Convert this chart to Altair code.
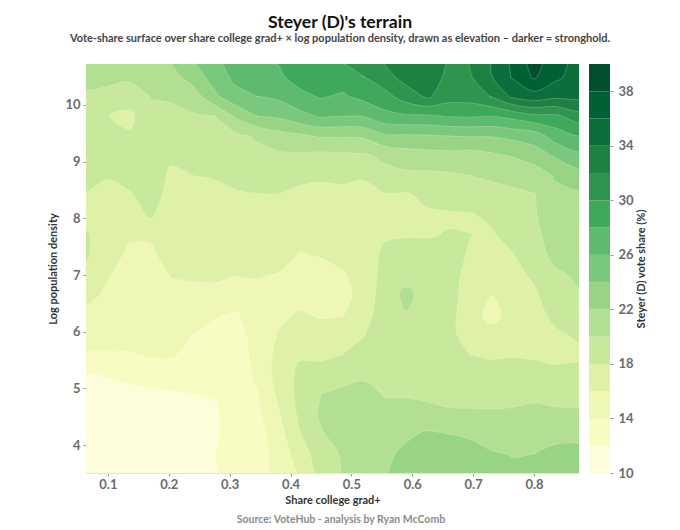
import altair as alt
import pandas as pd

FONT = "Lato"
TITLE = "Steyer (D)'s terrain"
SUBTITLE = "Vote-share surface over share college grad+ × log population density, drawn as elevation – darker = stronghold."
SOURCE = "Source: VoteHub - analysis by Ryan McComb"

LEVELS = [10, 12, 14, 16, 18, 20, 22, 24, 26, 28, 30, 32, 34, 36, 38]
COLORS = ["#fdfed9", "#f8fcc3", "#eef8b4", "#dff1a6", "#c8e89b", "#b2df91", "#97d486", "#7ac87b",
          "#5eba6c", "#3fa85b", "#2f944d", "#1e8041", "#0c6f3b", "#006134", "#004f2d"]

X_SHARE = [0.063, 0.100, 0.135, 0.170, 0.205, 0.240, 0.275, 0.310, 0.345, 0.380, 0.415, 0.450,
           0.485, 0.520, 0.555, 0.590, 0.625, 0.660, 0.695, 0.730, 0.765, 0.800, 0.835, 0.875]
Y_LOGDENS = [10.85, 10.5, 10.15, 9.8, 9.45, 9.1, 8.75, 8.4, 8.05, 7.7, 7.35, 7.0, 6.65, 6.3, 5.95,
             5.6, 5.25, 4.9, 4.55, 4.2, 3.85, 3.5]

# One list per column of the surface, top row first
C00 = [21, 20.4, 19.8, 19.5, 19.1, 18.8, 18.4, 17.9, 17.2, 18.3, 18.3, 17.2, 16.5, 15.5, 14.7, 13.8, 11.8, 11.2, 11, 10.8, 10.6, 10.5]
C01 = [21, 20.4, 19.6, 18.05, 19, 18.9, 18.1, 17.6, 17.1, 16.9, 16.7, 16.1, 15.7, 15.3, 14.6, 13.9, 12.2, 11.3, 11, 10.8, 10.6, 10.5]
C02 = [21, 20.3, 19.2, 17.4, 18.3, 18.8, 18.6, 17.8, 17.2, 16.2, 15.7, 15.4, 15.2, 14.9, 14.6, 13.9, 12.6, 11.4, 11, 10.8, 10.6, 10.5]
C03 = [21.6, 20.7, 20.05, 19.7, 19.4, 19, 18.9, 18.7, 18.2, 16.2, 15.7, 15.3, 15.1, 14.9, 14.6, 14.2, 13, 11.6, 11, 10.8, 10.6, 10.5]
C04 = [22.4, 21.4, 20.2, 19.6, 19.3, 18.3, 17.7, 17.4, 17, 16.9, 16.7, 16.1, 15.5, 15, 14.7, 14.2, 13.2, 11.8, 11.2, 10.9, 10.7, 10.5]
C05 = [24.2, 22.9, 21, 19.8, 19.4, 19, 18, 17.5, 17.2, 17, 16.9, 16.2, 15.6, 15, 14, 13.4, 12.7, 12, 11.3, 11, 10.8, 10.6]
C06 = [25.5, 24.9, 23.5, 20, 19.6, 19.2, 18.1, 17.6, 17.2, 17, 16.9, 16.3, 15.5, 14.2, 13.4, 13.2, 13, 12.1, 11.8, 11.8, 11.95, 11.8]
C07 = [27.2, 26.5, 25.4, 22.3, 19.6, 19.2, 18.7, 17.7, 17.3, 17, 16.7, 16.1, 15, 13.8, 13.3, 13.2, 13.1, 12.9, 12.8, 12.7, 12.7, 12.7]
C08 = [27.8, 27, 26, 24, 20.2, 19.5, 18.8, 17.9, 17.5, 17.2, 16.9, 16.1, 15.6, 15.1, 14.7, 14.5, 14.3, 13.9, 13.5, 13.2, 13.1, 13]
C09 = [28.3, 27.6, 26.4, 24.3, 21.2, 19.6, 18.9, 17.9, 17.6, 17.3, 16.7, 15.9, 15.6, 15.6, 16.1, 16.6, 16.8, 16.4, 15.8, 15.2, 14.7, 14.6]
C10 = [29.6, 28.9, 27.4, 25.4, 21.6, 19.7, 18.3, 17.7, 17.3, 16.6, 15.9, 15.5, 15.3, 16.2, 17.1, 17.8, 18.4, 18.6, 18.4, 17.9, 17, 16.2]
C11 = [29.9, 29.3, 28.2, 26.2, 22.2, 19.4, 18.2, 17.6, 17.2, 16.8, 16.1, 15.4, 15.2, 15.8, 16.8, 17.7, 18.6, 20, 20.3, 19.8, 19.1, 18.7]
C12 = [30.3, 29.3, 27.7, 26, 22.2, 19.6, 18.3, 17.6, 17.2, 16.9, 16.5, 15.8, 15.2, 15.9, 17, 18, 19.1, 20.5, 20.9, 20.9, 20.2, 20.1]
C13 = [31, 30, 28.6, 26.1, 22.3, 19.7, 18.1, 17.7, 17.4, 17.2, 17, 16.8, 16.9, 17.2, 17.9, 18.8, 19.7, 20.6, 21, 21.2, 21.4, 21.5]
C14 = [32.5, 31.3, 29.3, 27.4, 23.7, 20.4, 19.4, 17.8, 17.5, 17.8, 18.4, 18.7, 18.9, 19.1, 19.3, 19.4, 19.6, 19.9, 20.5, 21, 21.5, 21.8]
C15 = [33.4, 32.8, 31, 27.7, 23.7, 21, 19.6, 17.7, 17.4, 17.9, 18.7, 19.3, 20.5, 19.9, 19.5, 19.4, 19.5, 19.8, 20.8, 21.6, 22.5, 22.8]
C16 = [33.6, 33.2, 32.3, 27.7, 23.8, 21.2, 19.6, 18.6, 17.6, 17.9, 18.6, 18.9, 19.2, 19.5, 19.6, 19.6, 19.6, 19.8, 20.3, 22.3, 22.8, 23]
C17 = [31.7, 31.5, 30.9, 28.1, 24, 21.3, 19.7, 18.7, 17.8, 18.1, 18.4, 18.6, 18.7, 18.6, 18.5, 18.8, 19.1, 19.6, 20.2, 22, 22.8, 23.2]
C18 = [31.9, 31.8, 30.9, 28.2, 24.1, 21.1, 20, 19, 17.85, 18.02, 17.9, 17.5, 17.2, 17, 17.2, 18, 18.8, 19.5, 20.2, 21.7, 22.8, 23.1]
C19 = [34, 33.9, 32.1, 28, 24.1, 21.6, 20.2, 19.5, 18.3, 17.8, 17.4, 16.7, 16, 15.3, 16.7, 17.8, 18.6, 19.4, 20.2, 21, 22.2, 22.8]
C20 = [36.4, 36.2, 34.4, 28.6, 24.5, 22.1, 20.4, 19.7, 19.3, 18.6, 17.9, 17.4, 17.1, 16.8, 17.2, 17.9, 18.6, 19.6, 20.2, 20.9, 21.9, 22.4]
C21 = [39.1, 38.3, 35.2, 29.5, 24.9, 23, 20.8, 19.9, 19.8, 19.5, 19, 18.3, 17.7, 17.3, 17.3, 17.8, 18.5, 19.6, 20.5, 21, 22, 22.5]
C22 = [36.9, 36.5, 34.5, 29.6, 26.9, 24.2, 22.2, 21.5, 21.1, 20.9, 20.6, 19.6, 19.1, 18.5, 17.7, 17.6, 18.4, 19.3, 20.4, 21.2, 22.7, 23]
C23 = [35.2, 35, 34.6, 31.1, 27.9, 25.5, 23.2, 21.6, 21.2, 21, 20.8, 20.4, 19.8, 19.4, 18.3, 17.6, 18.6, 19.2, 20.3, 21.4, 22.6, 23]
COLUMNS = [C00, C01, C02, C03, C04, C05, C06, C07, C08, C09, C10, C11, C12, C13, C14, C15, C16, C17, C18, C19, C20, C21, C22, C23]

X_TICKS = [0.1, 0.2, 0.3, 0.4, 0.5, 0.6, 0.7, 0.8]
Y_TICKS = [4, 5, 6, 7, 8, 9, 10]
BAR_TICKS = [10, 14, 18, 22, 26, 30, 34, 38]


def contour_rings():
    """Trace the closed iso-lines of the surface; high side always on the left."""
    ys = Y_LOGDENS[::-1]
    gx = [X_SHARE[0] - 0.01] + X_SHARE + [X_SHARE[-1] + 0.01]
    gy = [ys[0] - 0.05] + ys + [ys[-1] + 0.05]
    nx, ny = len(gx), len(gy)

    def val(i, j):
        if i == 0 or j == 0 or i == nx - 1 or j == ny - 1:
            return -100.0
        return COLUMNS[i - 1][::-1][j - 1]

    rings = []
    for level in LEVELS:
        nxt, pts = {}, {}
        for i in range(nx - 1):
            for j in range(ny - 1):
                corners = [(i, j), (i + 1, j), (i + 1, j + 1), (i, j + 1)]
                vals = [val(*c) for c in corners]
                cross = []
                for k in range(4):
                    p, q = corners[k], corners[(k + 1) % 4]
                    vp, vq = vals[k], vals[(k + 1) % 4]
                    if (vp >= level) != (vq >= level):
                        key = tuple(sorted((p, q)))
                        t = (level - vp) / (vq - vp)
                        pts[key] = (gx[p[0]] + t * (gx[q[0]] - gx[p[0]]),
                                    gy[p[1]] + t * (gy[q[1]] - gy[p[1]]))
                        cross.append((key, vp >= level))
                if len(cross) == 2:
                    a, b = cross
                    if a[1]:
                        nxt[a[0]] = b[0]
                    else:
                        nxt[b[0]] = a[0]
                elif len(cross) == 4:
                    centre_high = sum(vals) / 4 >= level
                    for k, (key, is_exit) in enumerate(cross):
                        if is_exit:
                            nxt[key] = cross[(k + 1) % 4 if centre_high else (k - 1) % 4][0]
        seen = set()
        for start in nxt:
            if start in seen:
                continue
            ring, cur = [], start
            while cur not in seen:
                seen.add(cur)
                ring.append(pts[cur])
                cur = nxt[cur]
            area = sum(ring[k][0] * ring[(k + 1) % len(ring)][1] - ring[(k + 1) % len(ring)][0] * ring[k][1]
                       for k in range(len(ring))) / 2
            rings.append((abs(area), level if area > 0 else level - 1, ring))
    rings.sort(key=lambda r: -r[0])
    rows = []
    for rid, (_, value, ring) in enumerate(rings):
        for idx, (x, y) in enumerate(ring):
            rows.append({"ring": rid, "idx": idx, "share": x, "dens": y, "value": value})
    return pd.DataFrame(rows)


color_scale = alt.Scale(type="threshold", domain=LEVELS[1:], range=COLORS)

x_axis = alt.Axis(values=X_TICKS, format=".1f", title="Share college grad+", grid=False, domainColor="#e3e3e3",
                  tickColor="#999999", tickSize=3, labelFontSize=13, labelFontWeight="bold", labelColor="#6b6b6b",
                  labelFont=FONT, titleFont=FONT, titleFontSize=11, titleFontWeight="bold", titleColor="#333333",
                  titlePadding=3, labelPadding=2)
y_axis = alt.Axis(values=Y_TICKS, format="d", title="Log population density", grid=False, domainColor="#e3e3e3",
                  tickColor="#999999", tickSize=3, labelFontSize=13, labelFontWeight="bold", labelColor="#6b6b6b",
                  labelFont=FONT, titleFont=FONT, titleFontSize=11, titleFontWeight="bold", titleColor="#333333",
                  titlePadding=6, labelPadding=3)

surface = alt.Chart(contour_rings()).mark_line(
    interpolate="cardinal-closed", stroke="#ffffff", strokeOpacity=0.3, strokeWidth=0.7, clip=True
).encode(
    x=alt.X("share:Q", scale=alt.Scale(domain=[0.064, 0.874], nice=False, zero=False), axis=x_axis),
    y=alt.Y("dens:Q", scale=alt.Scale(domain=[3.51, 10.72], nice=False, zero=False), axis=y_axis),
    fill=alt.Fill("value:Q", scale=color_scale, legend=None),
    detail="ring:N",
    order="idx:Q",
)

source = alt.Chart(pd.DataFrame({"t": [SOURCE]})).mark_text(
    font=FONT, fontSize=10.5, fontWeight="bold", color="#8c8c8c", align="center", baseline="middle"
).encode(text="t:N", x=alt.value(255), y=alt.value(456))

main = alt.layer(surface, source).properties(width=493, height=409)

bar_df = pd.DataFrame({"lo": LEVELS, "hi": [v + 2 for v in LEVELS]})
bar = alt.Chart(bar_df).mark_rect().encode(
    y=alt.Y("lo:Q", scale=alt.Scale(domain=[10, 40], nice=False, zero=False),
            axis=alt.Axis(orient="right", values=BAR_TICKS, format="d", title="Steyer (D) vote share (%)",
                          grid=False, domain=False, tickColor="#999999", tickSize=3, labelFontSize=13,
                          labelFontWeight="bold", labelColor="#6b6b6b", labelFont=FONT, titleFont=FONT,
                          titleFontSize=11, titleFontWeight="bold", titleColor="#333333", titlePadding=2,
                          labelPadding=5, titleAngle=270, titleBaseline="top")),
    y2="hi:Q",
    fill=alt.Fill("lo:Q", scale=color_scale, legend=None),
).properties(width=21, height=409)

chart = alt.hconcat(main, bar, spacing=10).properties(
    title=alt.TitleParams(text=TITLE, subtitle=SUBTITLE, anchor="middle", font=FONT, fontSize=17.6, fontWeight="bold",
                          color="#111111", subtitleFont=FONT, subtitleFontSize=11, subtitleFontWeight="bold",
                          subtitleColor="#444444", subtitlePadding=1, offset=20, dx=-7),
    padding={"left": 39, "top": 6, "right": 5, "bottom": 5},
).configure_view(stroke=None).resolve_scale(fill="independent")

chart.save("out.html", embed_options={"renderer": "svg", "actions": False})
